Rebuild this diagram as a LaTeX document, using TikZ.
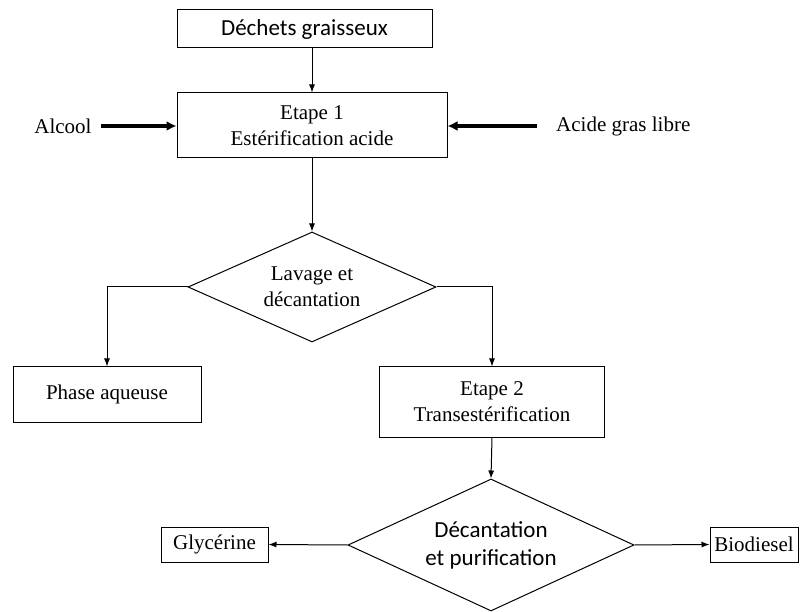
\documentclass[tikz,border=0pt]{standalone}
\usepackage{fontspec}
\setmainfont{Liberation Serif}
\newfontfamily\calibri{Carlito}
\usetikzlibrary{shapes.geometric, arrows.meta, positioning}

\begin{document}
\begin{tikzpicture}[x=1pt, y=-1pt, font=\fontsize{21}{26}\selectfont,
  box/.style={draw, line width=1pt, align=center, inner sep=2pt},
  losange/.style={draw, diamond, line width=1pt, align=center, inner sep=1pt},
  txt/.style={inner sep=0pt},
  sans/.style={font=\calibri\fontsize{23}{28}\selectfont},
  fleche/.style={-{Latex[length=8pt,width=6pt]}, line width=1pt},
  grosse/.style={-{Latex[length=10pt,width=10pt]}, line width=3.5pt}]
  \useasboundingbox (0,0) rectangle (801,612);

  % Etapes
  \node[box, sans, minimum width=255pt, minimum height=38pt] (dechets) at (304.5, 29) {Déchets graisseux};
  \node[box, minimum width=270pt, minimum height=65pt] (etape1) at (312, 125.5) {Etape 1\\Estérification acide};
  \node[losange, aspect=2.25, minimum width=248pt, minimum height=110pt] (lavage) at (312, 287) {Lavage et\\décantation};
  \node[box, minimum width=188pt, minimum height=55pt] (phase) at (107, 394.5) {Phase aqueuse};
  \node[box, minimum width=225pt, minimum height=70pt] (etape2) at (492, 402) {Etape 2\\Transestérification};
  \node[losange, sans, aspect=2.17, minimum width=286pt, minimum height=132pt] (decant) at (491, 545) {Décantation\\et purification};
  \node[box, minimum width=107pt, minimum height=35pt] (glyc) at (214.5, 544.5) {Glycérine};
  \node[box, minimum width=88pt, minimum height=35pt] (bio) at (754, 544.5) {Biodiesel};

  % Entrees
  \node[txt] (alcool) at (63, 126) {Alcool};
  \node[txt, anchor=west] (acide) at (556, 126) {Acide gras libre};

  % Fleches
  \draw[grosse, shorten <=9pt] (alcool.east) -- (etape1.west |- alcool.east);
  \draw[grosse, shorten <=19pt] (acide.west) -- (etape1.east |- acide.west);
  \draw[fleche] (dechets.south -| etape1.north) -- (etape1.north);
  \draw[fleche] (etape1.south) -- (lavage.north);
  \draw[fleche] (lavage.west) -| (phase.north);
  \draw[fleche] (lavage.east) -| (etape2.north);
  \draw[fleche] (etape2.south) -- (decant.north);
  \draw[fleche] (decant.west) -- (glyc.east);
  \draw[fleche] (decant.east) -- (bio.west);
\end{tikzpicture}
\end{document}
